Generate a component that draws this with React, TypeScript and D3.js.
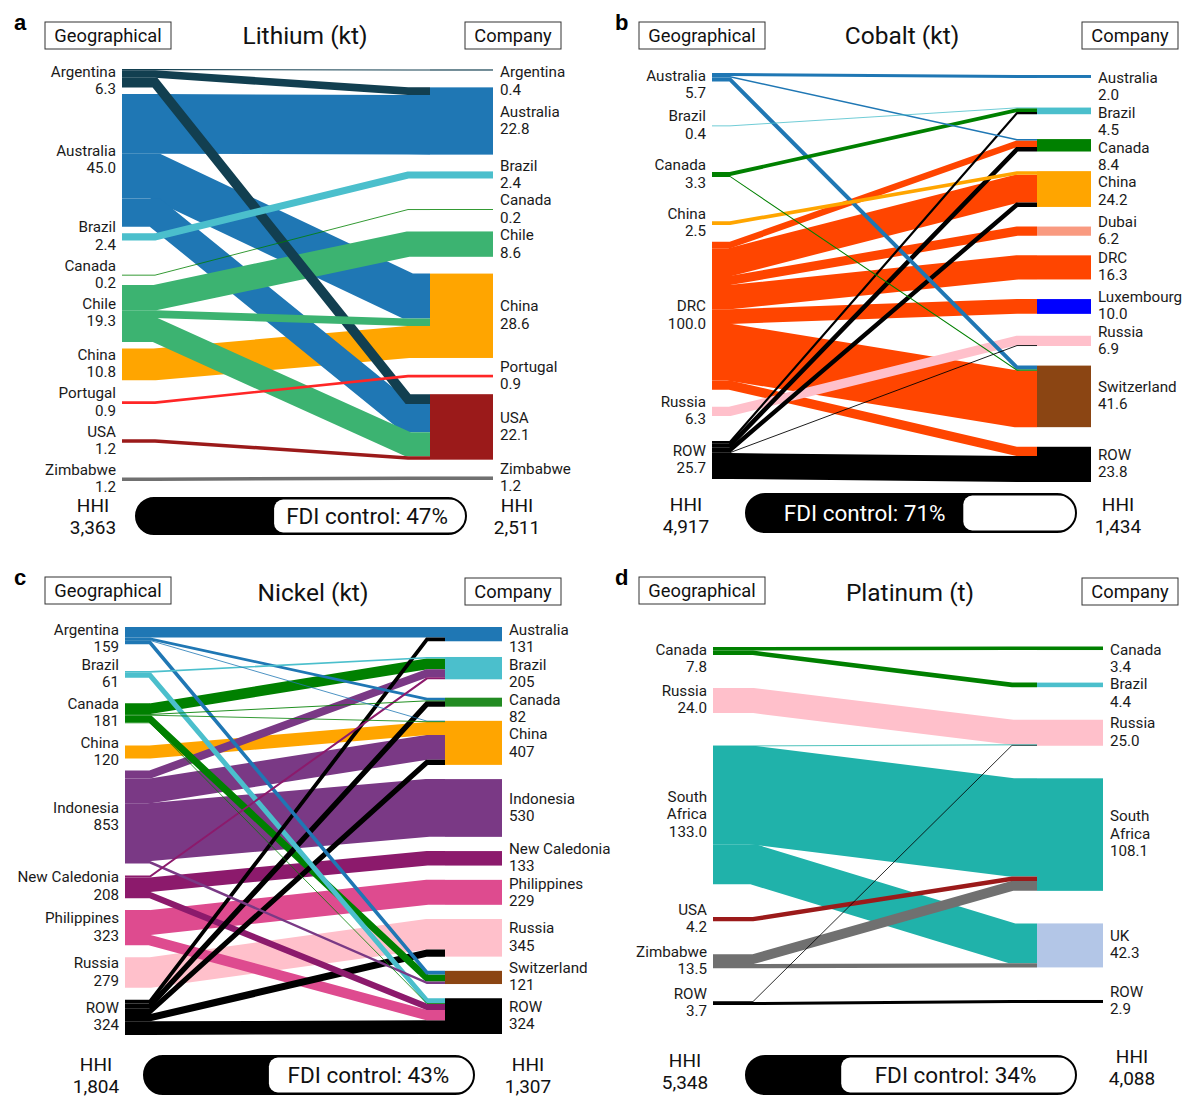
import React from 'react';
import * as d3 from 'd3';

type Flow = [string, string, number];

// ---------------- DATA ----------------
const panelTitles = ['Lithium (kt)', 'Cobalt (kt)', 'Nickel (kt)', 'Platinum (t)'];
const panelLetters = ['a', 'b', 'c', 'd'];
const hhiGeographical = [3363, 4917, 1804, 5348];
const hhiCompany = [2511, 1434, 1307, 4088];
const fdiControl = [47, 71, 43, 34];

// Lithium
const lithiumGeoNames = ['Argentina', 'Australia', 'Brazil', 'Canada', 'Chile', 'China', 'Portugal', 'USA', 'Zimbabwe'];
const lithiumGeoValues = [6.3, 45.0, 2.4, 0.2, 19.3, 10.8, 0.9, 1.2, 1.2];
const lithiumCompanyNames = ['Argentina', 'Australia', 'Brazil', 'Canada', 'Chile', 'China', 'Portugal', 'USA', 'Zimbabwe'];
const lithiumCompanyValues = [0.4, 22.8, 2.4, 0.2, 8.6, 28.6, 0.9, 22.1, 1.2];
const lithiumFlows: Flow[] = [
  ['Argentina', 'Argentina', 0.4],
  ['Argentina', 'Australia', 2.6],
  ['Argentina', 'USA', 3.3],
  ['Australia', 'Australia', 20.2],
  ['Australia', 'China', 15.2],
  ['Australia', 'USA', 9.6],
  ['Brazil', 'Brazil', 2.4],
  ['Canada', 'Canada', 0.2],
  ['Chile', 'Chile', 8.6],
  ['Chile', 'China', 2.6],
  ['Chile', 'USA', 8.1],
  ['China', 'China', 10.8],
  ['Portugal', 'Portugal', 0.9],
  ['USA', 'USA', 1.2],
  ['Zimbabwe', 'Zimbabwe', 1.2],
];

// Cobalt
const cobaltGeoNames = ['Australia', 'Brazil', 'Canada', 'China', 'DRC', 'Russia', 'ROW'];
const cobaltGeoValues = [5.7, 0.4, 3.3, 2.5, 100.0, 6.3, 25.7];
const cobaltCompanyNames = ['Australia', 'Brazil', 'Canada', 'China', 'Dubai', 'DRC', 'Luxembourg', 'Russia', 'Switzerland', 'ROW'];
const cobaltCompanyValues = [2.0, 4.5, 8.4, 24.2, 6.2, 16.3, 10.0, 6.9, 41.6, 23.8];
const cobaltFlows: Flow[] = [
  ['Australia', 'Australia', 2.0],
  ['Australia', 'Canada', 1.0],
  ['Australia', 'Switzerland', 2.7],
  ['Brazil', 'Brazil', 0.4],
  ['Canada', 'Brazil', 2.6],
  ['Canada', 'Switzerland', 0.7],
  ['China', 'China', 2.5],
  ['DRC', 'Canada', 4.3],
  ['DRC', 'China', 18.7],
  ['DRC', 'Dubai', 6.2],
  ['DRC', 'DRC', 16.3],
  ['DRC', 'Luxembourg', 10.0],
  ['DRC', 'Switzerland', 38.2],
  ['DRC', 'ROW', 6.3],
  ['Russia', 'Russia', 6.3],
  ['ROW', 'Brazil', 1.5],
  ['ROW', 'Canada', 3.1],
  ['ROW', 'China', 3.0],
  ['ROW', 'Russia', 0.6],
  ['ROW', 'ROW', 17.5],
];

// Nickel
const nickelGeoNames = ['Argentina', 'Brazil', 'Canada', 'China', 'Indonesia', 'New Caledonia', 'Philippines', 'Russia', 'ROW'];
const nickelGeoValues = [159, 61, 181, 120, 853, 208, 323, 279, 324];
const nickelCompanyNames = ['Australia', 'Brazil', 'Canada', 'China', 'Indonesia', 'New Caledonia', 'Philippines', 'Russia', 'Switzerland', 'ROW'];
const nickelCompanyValues = [131, 205, 82, 407, 530, 133, 229, 345, 121, 324];
const nickelFlows: Flow[] = [
  ['Argentina', 'Australia', 96],
  ['Argentina', 'Canada', 25],
  ['Argentina', 'China', 5],
  ['Argentina', 'Switzerland', 33],
  ['Brazil', 'Brazil', 15],
  ['Brazil', 'ROW', 46],
  ['Canada', 'Brazil', 98],
  ['Canada', 'Canada', 8],
  ['Canada', 'China', 5],
  ['Canada', 'Switzerland', 65],
  ['Canada', 'ROW', 5],
  ['China', 'China', 120],
  ['Indonesia', 'Brazil', 74],
  ['Indonesia', 'China', 226],
  ['Indonesia', 'Indonesia', 530],
  ['Indonesia', 'Switzerland', 23],
  ['New Caledonia', 'Brazil', 18],
  ['New Caledonia', 'New Caledonia', 133],
  ['New Caledonia', 'ROW', 57],
  ['Philippines', 'Philippines', 229],
  ['Philippines', 'ROW', 94],
  ['Russia', 'Russia', 279],
  ['ROW', 'Australia', 35],
  ['ROW', 'Canada', 49],
  ['ROW', 'China', 48],
  ['ROW', 'Russia', 66],
  ['ROW', 'ROW', 126],
];

// Platinum
const platinumGeoNames = ['Canada', 'Russia', 'South Africa', 'USA', 'Zimbabwe', 'ROW'];
const platinumGeoValues = [7.8, 24.0, 133.0, 4.2, 13.5, 3.7];
const platinumCompanyNames = ['Canada', 'Brazil', 'Russia', 'South Africa', 'UK', 'ROW'];
const platinumCompanyValues = [3.4, 4.4, 25.0, 108.1, 42.3, 2.9];
const platinumFlows: Flow[] = [
  ['Canada', 'Canada', 3.4],
  ['Canada', 'Brazil', 4.4],
  ['Russia', 'Russia', 24.0],
  ['South Africa', 'Russia', 0.2],
  ['South Africa', 'South Africa', 94.5],
  ['South Africa', 'UK', 38.3],
  ['USA', 'South Africa', 4.2],
  ['Zimbabwe', 'South Africa', 9.5],
  ['Zimbabwe', 'UK', 4.0],
  ['ROW', 'Russia', 0.8],
  ['ROW', 'ROW', 2.9],
];

// ---------------- STYLE ----------------
const FONT = 'Roboto, "Noto Sans", "DejaVu Sans", sans-serif';

const countryColors: Record<string, string> = {
  Argentina: '#123f50',
  Australia: '#1f77b4',
  Brazil: '#4bbfcc',
  Canada: '#008000',
  Chile: '#3cb371',
  China: '#ffa500',
  Portugal: '#ff2626',
  USA: '#9b1a1a',
  Zimbabwe: '#707070',
  DRC: '#ff4500',
  Dubai: '#f99a80',
  Luxembourg: '#0000ff',
  Russia: '#ffc0cb',
  Switzerland: '#8b4513',
  ROW: '#000000',
  Indonesia: '#7a3985',
  'New Caledonia': '#8c1a6c',
  Philippines: '#de4b8f',
  'South Africa': '#20b2aa',
  UK: '#b3c6e7',
};

interface Layout {
  letterX: number; letterY: number;
  geoBox: number[]; coBox: number[];
  titleX: number; titleY: number;
  xL: number; xR: number; xEnd: number; b1: number; b2: number; k: number;
  topL: number; botL: number; topR: number; botR: number; gL: number; gR: number;
  hhiLX: number; hhiRX: number; hhiLY: number; hhiRY: number;
  pill: number[];
}

const layouts: Layout[] = [
  { letterX: 14, letterY: 30, geoBox: [45, 22, 126, 27], coBox: [465, 22, 96, 27], titleX: 305, titleY: 44,
    xL: 122, xR: 430, xEnd: 493, b1: 33, b2: 22, k: 2.95, topL: 69, botL: 481, topR: 69.4, botR: 480, gL: 3, gR: 17,
    hhiLX: 93, hhiRX: 517, hhiLY: 512, hhiRY: 512, pill: [136, 498, 330, 36] },
  { letterX: 615, letterY: 30, geoBox: [639, 22, 126, 27], coBox: [1082, 22, 96, 27], titleX: 902, titleY: 44,
    xL: 712, xR: 1037, xEnd: 1091, b1: 18, b2: 20, k: 1.48, topL: 73, botL: 479, topR: 75, botR: 482, gL: 3, gR: 20,
    hhiLX: 686, hhiRX: 1118, hhiLY: 511, hhiRY: 511, pill: [746, 494, 330, 38] },
  { letterX: 14, letterY: 585, geoBox: [45, 577, 126, 27], coBox: [465, 578, 96, 27], titleX: 313, titleY: 601,
    xL: 125, xR: 445, xEnd: 502, b1: 25, b2: 18, k: 0.109, topL: 627, botL: 1035, topR: 627, botR: 1034, gL: 8, gR: 15,
    hhiLX: 96, hhiRX: 528, hhiLY: 1071, hhiRY: 1071, pill: [144, 1056, 330, 38] },
  { letterX: 615, letterY: 585, geoBox: [639, 577, 126, 27], coBox: [1082, 578, 96, 27], titleX: 910, titleY: 601,
    xL: 713, xR: 1037, xEnd: 1103, b1: 40, b2: 25, k: 1.04, topL: 647, botL: 1005, topR: 646.5, botR: 1003, gL: 33, gR: 33,
    hhiLX: 685, hhiRX: 1132, hhiLY: 1067, hhiRY: 1063, pill: [746, 1056, 330, 38] },
];

interface PanelCfg {
  idx: number;
  geo: string[]; geoVal: number[];
  co: string[]; coVal: number[];
  flows: Flow[];
  fmt: string;
  geoColors: Record<string, string>;
  coColors: Record<string, string>;
  wrap: string[];
}

const panelCfgs: PanelCfg[] = [
  { idx: 0, geo: lithiumGeoNames, geoVal: lithiumGeoValues, co: lithiumCompanyNames, coVal: lithiumCompanyValues,
    flows: lithiumFlows, fmt: '.1f', geoColors: {}, coColors: {}, wrap: [] },
  { idx: 1, geo: cobaltGeoNames, geoVal: cobaltGeoValues, co: cobaltCompanyNames, coVal: cobaltCompanyValues,
    flows: cobaltFlows, fmt: '.1f', geoColors: {}, coColors: {}, wrap: [] },
  { idx: 2, geo: nickelGeoNames, geoVal: nickelGeoValues, co: nickelCompanyNames, coVal: nickelCompanyValues,
    flows: nickelFlows, fmt: 'd', geoColors: { Argentina: '#1f77b4' }, coColors: { Canada: '#228b22' }, wrap: [] },
  { idx: 3, geo: platinumGeoNames, geoVal: platinumGeoValues, co: platinumCompanyNames, coVal: platinumCompanyValues,
    flows: platinumFlows, fmt: '.1f', geoColors: {}, coColors: {}, wrap: ['South Africa'] },
];

const LINE_H = 17.4;
const LABEL_SIZE = 15.2;

function layoutSide(h: number[], lines: number[], top: number, bottom: number, gap: number): number[] {
  const n = h.length;
  const c: number[] = new Array(n);
  c[0] = top + h[0] / 2;
  for (let i = 1; i < n; i++) {
    const need = Math.max(h[i - 1] / 2 + h[i] / 2 + gap, ((lines[i - 1] + lines[i]) * LINE_H) / 2);
    c[i] = c[i - 1] + need;
  }
  const extra = (bottom - (c[n - 1] + h[n - 1] / 2)) / (n - 1);
  return c.map((v, i) => v + extra * i);
}

// label tops: centred on band, clamped below the panel top and pushed down to avoid overlaps
function labelTops(c: number[], lines: number[], top: number): number[] {
  const t: number[] = [];
  c.forEach((ci, i) => {
    const h = lines[i] * LINE_H;
    let ti = ci - h / 2;
    if (i === 0) ti = Math.max(ti, top - 5);
    else ti = Math.max(ti, t[i - 1] + lines[i - 1] * LINE_H);
    t.push(ti);
  });
  return t;
}

function Panel({ cfg }: { cfg: PanelCfg }) {
  const L = layouts[cfg.idx];
  const vScale = d3.scaleLinear().domain([0, 1]).range([0, L.k]);
  const fmt = d3.format(cfg.fmt);
  const nameLines = (n: string) => (cfg.wrap.includes(n) ? n.split(' ') : [n]);
  const gColor = (n: string) => cfg.geoColors[n] || countryColors[n];
  const cColor = (n: string) => cfg.coColors[n] || countryColors[n];

  const links = cfg.flows.map(([s, t, v]) => ({
    s: cfg.geo.indexOf(s), t: cfg.co.indexOf(t), v, w: vScale(v), y0: 0, y1: 0, src: s,
  }));
  const hL = cfg.geo.map((_, i) => d3.sum(links.filter((l) => l.s === i), (l) => l.w));
  const hR = cfg.co.map((_, j) => d3.sum(links.filter((l) => l.t === j), (l) => l.w));
  const linesL = cfg.geo.map((n) => nameLines(n).length + 1);
  const linesR = cfg.co.map((n) => nameLines(n).length + 1);
  const cL = layoutSide(hL, linesL, L.topL, L.botL, L.gL);
  const cR = layoutSide(hR, linesR, L.topR, L.botR, L.gR);
  const tL = labelTops(cL, linesL, L.topL);
  const tR = labelTops(cR, linesR, L.topR);

  cfg.geo.forEach((_, i) => {
    let y = cL[i] - hL[i] / 2;
    links.filter((l) => l.s === i).sort((a, b) => a.t - b.t).forEach((l) => {
      l.y0 = y + l.w / 2;
      y += l.w;
    });
  });
  cfg.co.forEach((_, j) => {
    let y = cR[j] - hR[j] / 2;
    links.filter((l) => l.t === j).sort((a, b) => a.s - b.s).forEach((l) => {
      l.y1 = y + l.w / 2;
      y += l.w;
    });
  });

  const line = d3.line();
  const drawOrder = [...links].sort((a, b) => b.v - a.v);

  const labelBlock = (lines: string[], blockTop: number, x: number, anchor: string, key: string) => {
    const y0 = blockTop + 13;
    return (
      <text key={key} x={x} y={y0} textAnchor={anchor} fontSize={LABEL_SIZE} fontFamily={FONT} fill="#1a1a1a">
        {lines.map((t, i) => (
          <tspan key={i} x={x} y={y0 + i * LINE_H}>{t}</tspan>
        ))}
      </text>
    );
  };

  const [px, py, pw, ph] = L.pill;
  const fdi = fdiControl[cfg.idx];
  const split = px + (fdi / 100) * pw - 17;
  const clipId = `pillclip${cfg.idx}`;
  const textInBlack = fdi >= 50;
  const hhiFmt = d3.format(',');

  return (
    <g>
      <text x={L.letterX} y={L.letterY} fontSize={22} fontWeight={900} fontFamily='"Liberation Sans", Arial, sans-serif' fill="#000">
        {panelLetters[cfg.idx]}
      </text>
      <rect x={L.geoBox[0]} y={L.geoBox[1]} width={L.geoBox[2]} height={L.geoBox[3]} fill="#fff" stroke="#333" strokeWidth={1} />
      <text x={L.geoBox[0] + L.geoBox[2] / 2} y={L.geoBox[1] + 20} textAnchor="middle" fontSize={18.3} fontFamily={FONT} fill="#111">Geographical</text>
      <rect x={L.coBox[0]} y={L.coBox[1]} width={L.coBox[2]} height={L.coBox[3]} fill="#fff" stroke="#333" strokeWidth={1} />
      <text x={L.coBox[0] + L.coBox[2] / 2} y={L.coBox[1] + 20} textAnchor="middle" fontSize={18.3} fontFamily={FONT} fill="#111">Company</text>
      <text x={L.titleX} y={L.titleY} textAnchor="middle" fontSize={24.5} fontFamily={FONT} fill="#111">{panelTitles[cfg.idx]}</text>

      {drawOrder.map((l, i) => (
        <path
          key={`f${i}`}
          d={line([[L.xL, l.y0], [L.xL + L.b1, l.y0], [L.xR - L.b2, l.y1], [L.xR, l.y1]]) || ''}
          fill="none"
          stroke={gColor(l.src)}
          strokeWidth={Math.max(l.w, 0.8)}
          strokeLinejoin="miter"
          strokeMiterlimit={6}
        />
      ))}

      {cfg.co.map((n, j) => (
        <rect key={`r${j}`} x={L.xR} y={cR[j] - Math.max(hR[j], 0.8) / 2} width={L.xEnd - L.xR} height={Math.max(hR[j], 0.8)} fill={cColor(n)} />
      ))}

      {cfg.geo.map((n, i) => labelBlock([...nameLines(n), fmt(cfg.geoVal[i])], tL[i], L.xL - 6, 'end', `ll${i}`))}
      {cfg.co.map((n, j) => labelBlock([...nameLines(n), fmt(cfg.coVal[j])], tR[j], L.xEnd + 7, 'start', `rl${j}`))}

      <text x={L.hhiLX} y={L.hhiLY} textAnchor="middle" fontSize={19} fontFamily={FONT} fill="#111">
        <tspan x={L.hhiLX} y={L.hhiLY}>HHI</tspan>
        <tspan x={L.hhiLX} y={L.hhiLY + 21.5}>{hhiFmt(hhiGeographical[cfg.idx])}</tspan>
      </text>
      <text x={L.hhiRX} y={L.hhiRY} textAnchor="middle" fontSize={19} fontFamily={FONT} fill="#111">
        <tspan x={L.hhiRX} y={L.hhiRY}>HHI</tspan>
        <tspan x={L.hhiRX} y={L.hhiRY + 21.5}>{hhiFmt(hhiCompany[cfg.idx])}</tspan>
      </text>

      <defs>
        <clipPath id={clipId}>
          <rect x={px} y={py} width={pw} height={ph} rx={ph / 2} />
        </clipPath>
      </defs>
      <g clipPath={`url(#${clipId})`}>
        <rect x={px} y={py} width={pw} height={ph} fill="#000" />
        <rect x={split} y={py + 1.5} width={px + pw - split + 20} height={ph - 3} rx={9} fill="#fff" />
      </g>
      <rect x={px} y={py} width={pw} height={ph} rx={ph / 2} fill="none" stroke="#000" strokeWidth={2} />
      <text
        x={textInBlack ? (px + split) / 2 + 10 : (split + px + pw) / 2 - 3}
        y={py + ph / 2 + 8}
        textAnchor="middle"
        fontSize={22.5}
        fontFamily={FONT}
        fill={textInBlack ? '#fff' : '#111'}
      >
        {`FDI control: ${fdi}%`}
      </text>
    </g>
  );
}

export default function App() {
  return (
    <svg
      width={1188}
      height={1096}
      viewBox="0 0 1188 1096"
      style={{ position: 'absolute', left: 0, top: 0, background: '#fff' }}
    >
      <rect x={0} y={0} width={1188} height={1096} fill="#fff" />
      {panelCfgs.map((cfg) => (
        <Panel key={cfg.idx} cfg={cfg} />
      ))}
    </svg>
  );
}
